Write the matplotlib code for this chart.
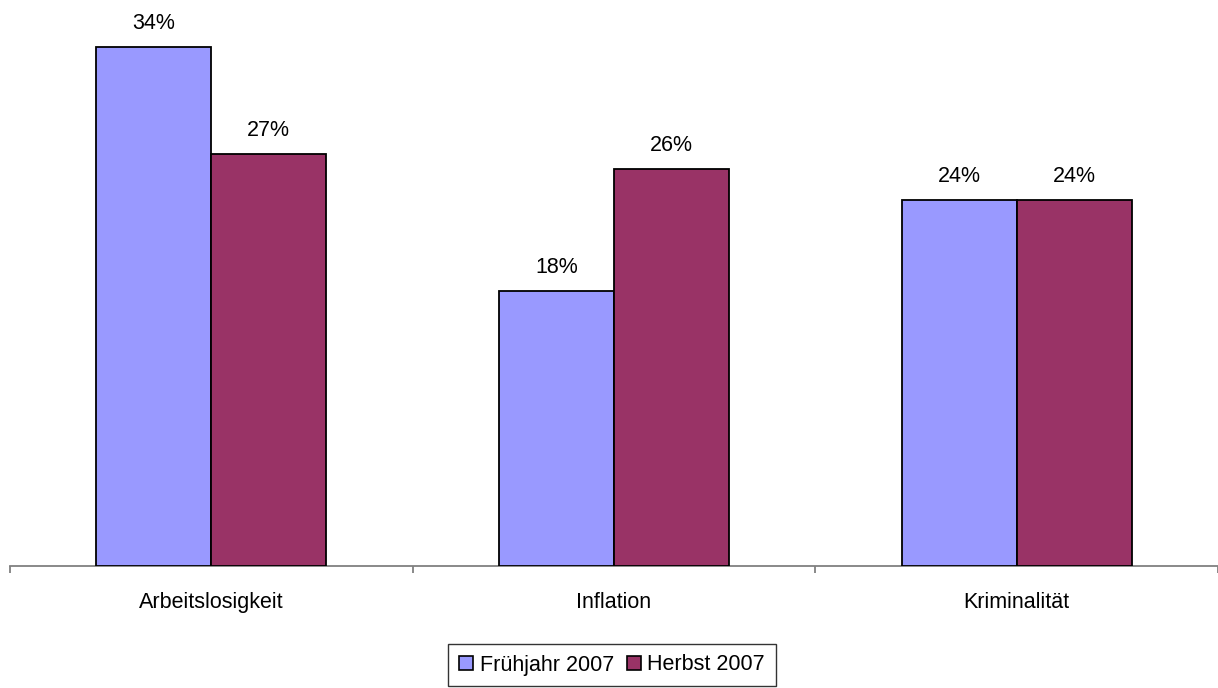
import numpy as np
import matplotlib.pyplot as plt
from matplotlib.patches import Patch

# Data
categories = ['Arbeitslosigkeit', 'Inflation', 'Kriminalität']
fruehjahr = [34, 18, 24]
herbst = [27, 26, 24]
series_names = ['Frühjahr 2007', 'Herbst 2007']
colors = ['#9999FF', '#993366']

plt.rcParams['font.family'] = ['Liberation Sans', 'DejaVu Sans']
fs = 15.5

fig = plt.figure(figsize=(12.18, 6.88), dpi=100)
ax = fig.add_axes([10 / 1218, 1 - 566 / 688, 1 - 10 / 1218, 566 / 688])

x = np.arange(len(categories))
w = 1 / 3.5

for i, (vals, col) in enumerate(zip([fruehjahr, herbst], colors)):
    pos = x + (i - 0.5) * w
    bars = ax.bar(pos, vals, width=w, color=col, edgecolor='black', linewidth=1.3, zorder=3)
    for b, v in zip(bars, vals):
        ax.annotate(f'{v}%', (b.get_x() + b.get_width() / 2, v), xytext=(0, 13),
                    textcoords='offset points', ha='center', va='baseline', fontsize=fs)

ax.set_xlim(-0.5, 2.5)
ax.set_ylim(0, 37.1)
ax.set_yticks([])
for s in ['top', 'right', 'left']:
    ax.spines[s].set_visible(False)
ax.spines['bottom'].set_color('#808080')
ax.spines['bottom'].set_linewidth(1.3)

# tick marks between categories, labels centered
ax.set_xticks([-0.5, 0.5, 1.5, 2.5])
ax.set_xticklabels([])
ax.tick_params(axis='x', length=5, color='#808080', width=1.3)
ax.set_xticks(x, minor=True)
ax.set_xticklabels(categories, minor=True, fontsize=fs)
ax.tick_params(axis='x', which='minor', length=0, pad=19)

handles = [Patch(facecolor=c, edgecolor='black', linewidth=1.2) for c in colors]
leg = fig.legend(handles, series_names, loc='center', bbox_to_anchor=(612 / 1218, 1 - 665 / 688),
                 ncol=2, fontsize=fs, frameon=True, fancybox=False, edgecolor='black',
                 handlelength=0.65, handleheight=0.65, handletextpad=0.3, columnspacing=0.6,
                 borderpad=0.5, borderaxespad=0)
leg.get_frame().set_linewidth(1.0)

fig.savefig('out.png', dpi=100)
